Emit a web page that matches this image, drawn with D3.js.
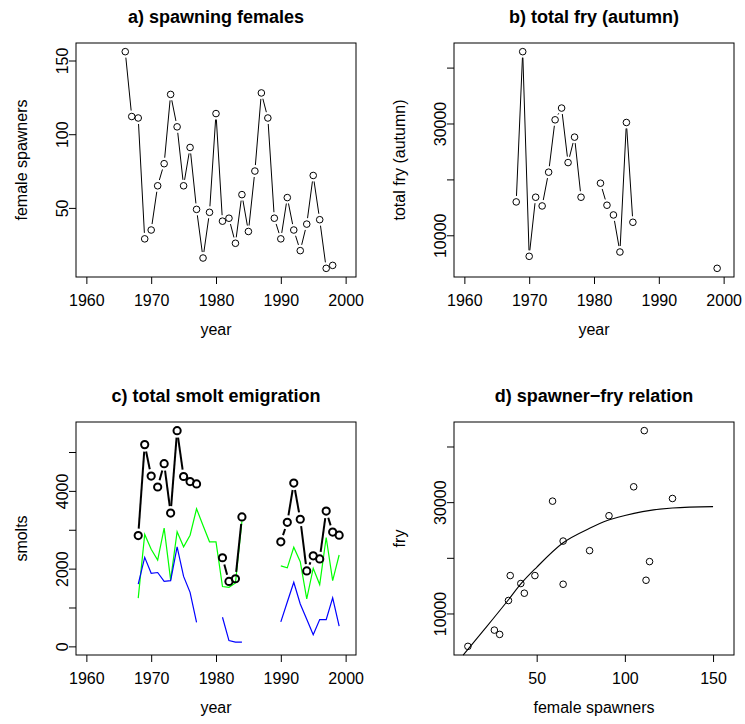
<!DOCTYPE html>
<html><head><meta charset="utf-8">
<script src="https://cdn.jsdelivr.net/npm/d3@7"></script>
<style>
body{margin:0;background:#fff}
svg{display:block}
text{font-family:"Liberation Sans",Arial,Helvetica,sans-serif;fill:#000}
</style>
</head><body>
<svg id="chart" width="745" height="724"></svg>
<script>
// ---------------- data ----------------
const spawnYears = [1966,1967,1968,1969,1970,1971,1972,1973,1974,1975,1976,1977,1978,1979,1980,1981,1982,1983,1984,1985,1986,1987,1988,1989,1990,1991,1992,1993,1994,1995,1996,1997,1998];
const spawners   = [156,112,111,29,35,65,80,127,105,65,91,49,16,47,114,41,43,26,59,34,75,128,111,43,29,57,35,21,39,72,42,9,11];

const fryYears = [1968,1969,1970,1971,1972,1973,1974,1975,1976,1977,1978,1981,1982,1983,1984,1985,1986,1999];
const fry      = [15970,42850,6240,16810,15250,21290,30660,32760,23010,27560,16810,19320,15380,13640,7010,30180,12330,4090];

const smoltYears = [1968,1969,1970,1971,1972,1973,1974,1975,1976,1977,1978,1979,1980,1981,1982,1983,1984,1985,1986,1987,1988,1989,1990,1991,1992,1993,1994,1995,1996,1997,1998,1999];
const smoltTotal = [2850,5190,4380,4100,4700,3430,5550,4370,4240,4180,null,null,null,2280,1670,1740,3330,null,null,null,null,null,2690,3190,4200,3270,1940,2330,2250,3480,2940,2860];
const smoltGreen = [1240,2880,2500,2220,3040,1710,2950,2560,2860,3540,3110,2690,2690,1540,1520,1630,3220,null,null,null,null,null,2070,2020,2550,2180,1220,2010,1590,2800,1690,2350];
const smoltBlue  = [1600,2290,1880,1900,1670,1690,2560,1800,1390,620,null,null,null,750,150,110,110,null,null,null,null,null,630,1140,1650,1090,700,300,690,690,1250,520];

// fitted spawner-fry curve
const curveS = [8.3,20,34,41,50,65,80,90,100,110,127,150];
const curveR = [2530,7000,12460,15300,18300,22700,25300,26700,27600,28300,28950,29200];

const yearTicks = [1960,1970,1980,1990,2000];
const spawnTicks = [50,100,150];
const fryTicks = [10000,20000,30000,40000];
const fryTickLabels = [10000,30000];
const smoltTicks = [0,1000,2000,3000,4000,5000];
const smoltTickLabels = [0,2000,4000];

const titles = ["a) spawning females","b) total fry (autumn)","c) total smolt emigration","d) spawner\u2212fry relation"];

// ---------------- layout ----------------
const svg = d3.select("#chart");
svg.append("rect").attr("width",745).attr("height",724).attr("fill","#fff");
const P = {
  a:{x0:76,x1:356,y0:43,y1:277},
  b:{x0:454,x1:734,y0:43,y1:277},
  c:{x0:76,x1:356,y0:422,y1:655},
  d:{x0:454,x1:734,y0:422,y1:655}
};
const FS = 16;
function pad(ext){const r=ext[1]-ext[0];return [ext[0]-0.04*r, ext[1]+0.04*r];}

function frame(p, title, xlab, ylab, x, y, xticks, yticks, ylabels){
  const g = svg.append("g");
  const xa = g.append("g").attr("transform",`translate(0,${p.y1})`)
    .call(d3.axisBottom(x).tickValues(xticks).tickSize(7).tickSizeOuter(0).tickFormat(d3.format("d")));
  xa.select(".domain").remove();
  xa.selectAll("text").attr("y",29).attr("dy",null).style("font-size",FS+"px");
  xa.selectAll("line").attr("stroke","#000");
  const ya = g.append("g").attr("transform",`translate(${p.x0},0)`)
    .call(d3.axisLeft(y).tickValues(yticks).tickSize(7).tickSizeOuter(0)
      .tickFormat(d => ylabels.includes(d) ? String(d) : ""));
  ya.select(".domain").remove();
  ya.selectAll("text").attr("x",null).attr("dy",null).attr("text-anchor","middle")
    .attr("transform","translate(-8,0) rotate(-90)").style("font-size",FS+"px");
  ya.selectAll("line").attr("stroke","#000");
  g.selectAll(".tick text").attr("fill","#000");
  g.selectAll("g").attr("font-family",null).attr("font-size",null);
  g.append("rect").attr("x",p.x0).attr("y",p.y0).attr("width",p.x1-p.x0).attr("height",p.y1-p.y0)
    .attr("fill","none").attr("stroke","#000").attr("stroke-width",1);
  g.append("text").attr("x",(p.x0+p.x1)/2).attr("y",p.y0-20).attr("text-anchor","middle")
    .style("font-size","18px").style("font-weight","bold").text(title);
  g.append("text").attr("x",(p.x0+p.x1)/2).attr("y",p.y1+58).attr("text-anchor","middle")
    .style("font-size",FS+"px").text(xlab);
  g.append("text").attr("transform",`translate(${p.x0-49},${(p.y0+p.y1)/2}) rotate(-90)`).attr("text-anchor","middle")
    .style("font-size",FS+"px").text(ylab);
  return g;
}

function bLines(g, xs, vs, x, y, gap, color, width){
  for(let i=0;i<xs.length-1;i++){
    if(vs[i]==null || vs[i+1]==null || xs[i+1]-xs[i]!==1) continue;
    const x1=x(xs[i]), y1=y(vs[i]), x2=x(xs[i+1]), y2=y(vs[i+1]);
    const L=Math.hypot(x2-x1,y2-y1);
    if(L<=2*gap) continue;
    const ux=(x2-x1)/L, uy=(y2-y1)/L;
    g.append("line").attr("x1",x1+ux*gap).attr("y1",y1+uy*gap).attr("x2",x2-ux*gap).attr("y2",y2-uy*gap)
      .attr("stroke",color).attr("stroke-width",width);
  }
}
function pts(g, xs, vs, x, y, r, width){
  xs.forEach((xx,i)=>{
    if(vs[i]==null) return;
    g.append("circle").attr("cx",x(xx)).attr("cy",y(vs[i])).attr("r",r)
      .attr("fill","none").attr("stroke","#000").attr("stroke-width",width);
  });
}
function plainLine(g, xs, vs, x, y, color, width){
  const line = d3.line().defined((d,i)=>vs[i]!=null).x((d,i)=>x(xs[i])).y((d,i)=>y(vs[i]));
  g.append("path").attr("d",line(xs)).attr("fill","none").attr("stroke",color).attr("stroke-width",width);
}

{
  const p=P.a;
  const x=d3.scaleLinear().domain(pad([1960,2000])).range([p.x0,p.x1]);
  const y=d3.scaleLinear().domain(pad(d3.extent(spawners))).range([p.y1,p.y0]);
  const g=frame(p,titles[0],"year","female spawners",x,y,yearTicks,spawnTicks,spawnTicks);
  bLines(g,spawnYears,spawners,x,y,6,"#000",1);
  pts(g,spawnYears,spawners,x,y,3.3,1);
}
{
  const p=P.b;
  const x=d3.scaleLinear().domain(pad([1960,2000])).range([p.x0,p.x1]);
  const y=d3.scaleLinear().domain(pad(d3.extent(fry))).range([p.y1,p.y0]);
  const g=frame(p,titles[1],"year","total fry (autumn)",x,y,yearTicks,fryTicks,fryTickLabels);
  bLines(g,fryYears,fry,x,y,6,"#000",1);
  pts(g,fryYears,fry,x,y,3.3,1);
}
{
  const p=P.c;
  const x=d3.scaleLinear().domain(pad([1960,2000])).range([p.x0,p.x1]);
  const y=d3.scaleLinear().domain(pad([0,d3.max(smoltTotal)])).range([p.y1,p.y0]);
  const g=frame(p,titles[2],"year","smolts",x,y,yearTicks,smoltTicks,smoltTickLabels);
  plainLine(g,smoltYears,smoltGreen,x,y,"#00ff00",1.2);
  plainLine(g,smoltYears,smoltBlue,x,y,"#0000ff",1.2);
  bLines(g,smoltYears,smoltTotal,x,y,7,"#000",2);
  pts(g,smoltYears,smoltTotal,x,y,3.6,2);
}
{
  const p=P.d;
  const x=d3.scaleLinear().domain(pad(d3.extent(spawners))).range([p.x0,p.x1]);
  const y=d3.scaleLinear().domain(pad(d3.extent(fry))).range([p.y1,p.y0]);
  const g=frame(p,titles[3],"female spawners","fry",x,y,spawnTicks,fryTicks,fryTickLabels);
  const pairS=[], pairR=[];
  fryYears.forEach((fy,i)=>{
    const j=spawnYears.indexOf(fy-1);
    if(j>=0){pairS.push(spawners[j]); pairR.push(fry[i]);}
  });
  pairS.forEach((s,i)=>{
    g.append("circle").attr("cx",x(s)).attr("cy",y(pairR[i])).attr("r",3.3)
      .attr("fill","none").attr("stroke","#000").attr("stroke-width",1);
  });
  const line=d3.line().x((d,i)=>x(curveS[i])).y((d,i)=>y(curveR[i])).curve(d3.curveMonotoneX);
  g.append("path").attr("d",line(curveS)).attr("fill","none").attr("stroke","#000").attr("stroke-width",1.1);
}
</script>
</body></html>
